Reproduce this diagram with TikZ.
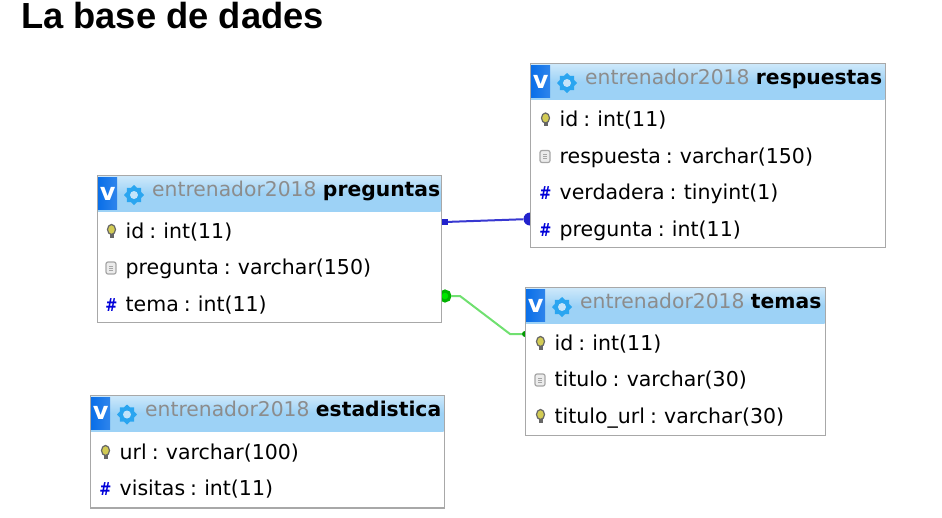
\documentclass[tikz,border=0pt]{standalone}
\usepackage{fontspec}
\setmainfont{DejaVu Sans}
\newfontfamily\titlefont{Liberation Sans}
\usetikzlibrary{shapes.geometric,calc}
\definecolor{headblue}{HTML}{9DD2F6}
\definecolor{vblue}{HTML}{0A6FE8}
\definecolor{gearblue}{HTML}{2AA5F0}
\definecolor{framegray}{HTML}{A8A8A8}
\definecolor{linkblue}{HTML}{2222CC}
\definecolor{linkgreen}{HTML}{70E070}
\newcommand{\rowfont}{\fontsize{20.5}{20.5}\selectfont\spaceskip 5pt\relax}
\tikzset{
  tablebox/.style={draw=framegray,line width=1pt,fill=white,inner sep=0pt,anchor=north west},
  headbar/.style={inner sep=0pt,anchor=north west,top color=headblue!50!white,bottom color=headblue,middle color=headblue},
  vbox/.style={inner sep=0pt,anchor=north west,minimum width=19pt,minimum height=32pt,left color=vblue,right color=vblue!85!white,text=white,font=\bfseries\fontsize{24}{24}\selectfont},
  gear/.style={star,star points=8,star point ratio=1.3,minimum size=20pt,inner sep=0pt,fill=gearblue},
  gearhole/.style={circle,minimum size=8pt,inner sep=0pt,fill=headblue!60!white},
  rowtext/.style={anchor=base west,inner sep=0pt,text=black,font=\rowfont},
  headtext/.style={anchor=base west,inner sep=0pt,font=\fontsize{20.3}{20.3}\selectfont},
  hashicon/.style={inner sep=0pt,xscale=.8,text=blue!85!black,font=\bfseries\fontsize{18}{18}\selectfont},
  docicon/.style={draw=gray!70,fill=gray!15,rounded corners=2pt,line width=1.2pt,minimum width=10pt,minimum height=12pt,inner sep=0pt},
  keyicon/.style={ellipse,draw=black!60,fill=yellow!60!gray,line width=1.2pt,minimum width=8pt,minimum height=10pt,inner sep=0pt},
  keyshaft/.style={fill=black!60,minimum width=4pt,minimum height=6pt,inner sep=0pt},
  linkend/.style={inner sep=0pt,minimum size=7pt},
}
% name, x, y, width, height, table name
\newcommand{\sqltable}[6]{
  \node[tablebox,minimum width=#4pt,minimum height=#5pt] (#1) at (#2,#3) {};
  \node[headbar,minimum width=#4pt,minimum height=36pt] (#1head) at (#2,#3) {};
  \node[vbox] (#1v) at ($(#2,#3)+(1,2)$) {v};
  \node[gear] (#1gear) at ($(#2,#3)+(37,19.5)$) {};
  \node[gearhole] (#1hole) at (#1gear) {};
  \node[headtext,text=gray!90] (#1title) at ($(#2,#3)+(55,21)$) {entrenador2018 \textcolor{black}{\bfseries #6}};
  \draw[framegray,line width=1pt] (#1.north west) rectangle (#1.south east);
}
\newcommand{\hashrow}[4]{
  \node[hashicon] (#1i) at ($(#2,#3)+(14.5,-5.5)$) {\#};
  \node[rowtext] (#1) at ($(#2,#3)+(28.5,.7)$) {#4};
}
\newcommand{\docrow}[4]{
  \node[docicon] (#1i) at ($(#2,#3)+(14,-6)$) {};
  \draw[gray!70,line width=.8pt] ($(#1i)+(-2,-2)$) -- ($(#1i)+(2,-2)$) ($(#1i)+(-2,0)$) -- ($(#1i)+(2,0)$) ($(#1i)+(-2,2)$) -- ($(#1i)+(2,2)$);
  \node[rowtext] (#1) at ($(#2,#3)+(28.5,.7)$) {#4};
}
\newcommand{\keyrow}[4]{
  \node[keyshaft] (#1s) at ($(#2,#3)+(14.5,-3)$) {};
  \node[keyicon] (#1i) at ($(#2,#3)+(14.5,-8)$) {};
  \node[rowtext] (#1) at ($(#2,#3)+(28.5,.7)$) {#4};
}
\begin{document}
\begin{tikzpicture}[x=1pt,y=-1pt]
\useasboundingbox (0,0) rectangle (942,517);

\node[anchor=base west,inner sep=0pt,font=\titlefont\bfseries\fontsize{36.3}{36.3}\selectfont] (pagetitle) at (21,28) {La base de dades};

% relations
\node[linkend,fill=linkblue,minimum size=6pt] (bluestart) at (445,222) {};
\node[linkend,circle,fill=linkblue,minimum size=13pt] (blueend) at (530,219) {};
\draw[linkblue!90,line width=2pt] (bluestart) -- (blueend);
\node[linkend,circle,draw=green!70!black,line width=3pt,fill=green!90!black,minimum size=10pt] (greenstart) at (445,296) {};
\node[linkend,circle,fill=green!60!black,minimum size=6pt] (greenend) at (525,334) {};
\draw[linkgreen,line width=2pt] (greenstart) -- (460,296) -- (510,334) -- (greenend);

% preguntas
\sqltable{preg}{97}{175.5}{343.5}{146}{preguntas}
\keyrow{pregid}{97}{237.5}{id : int(11)}
\docrow{pregtxt}{97}{274}{pregunta : varchar(150)}
\hashrow{pregtema}{97}{310.5}{tema : int(11)}

% respuestas
\sqltable{resp}{530}{63.5}{354.5}{183}{respuestas}
\keyrow{respid}{531}{126}{id : int(11)}
\docrow{resptxt}{531}{162.5}{respuesta : varchar(150)}
\hashrow{respver}{531}{199}{verdadera : tinyint(1)}
\hashrow{resppreg}{531}{235.5}{pregunta : int(11)}

% temas
\sqltable{tem}{525}{287.5}{299.5}{147}{temas}
\keyrow{temid}{526}{349.5}{id : int(11)}
\docrow{temtit}{526}{386}{titulo : varchar(30)}
\keyrow{temurl}{526}{422.5}{titulo\_url : varchar(30)}

% estadistica
\sqltable{est}{90}{395}{353.5}{112}{estadistica}
\keyrow{esturl}{91}{458.5}{url : varchar(100)}
\hashrow{estvis}{91}{495}{visitas : int(11)}
\end{tikzpicture}
\end{document}
